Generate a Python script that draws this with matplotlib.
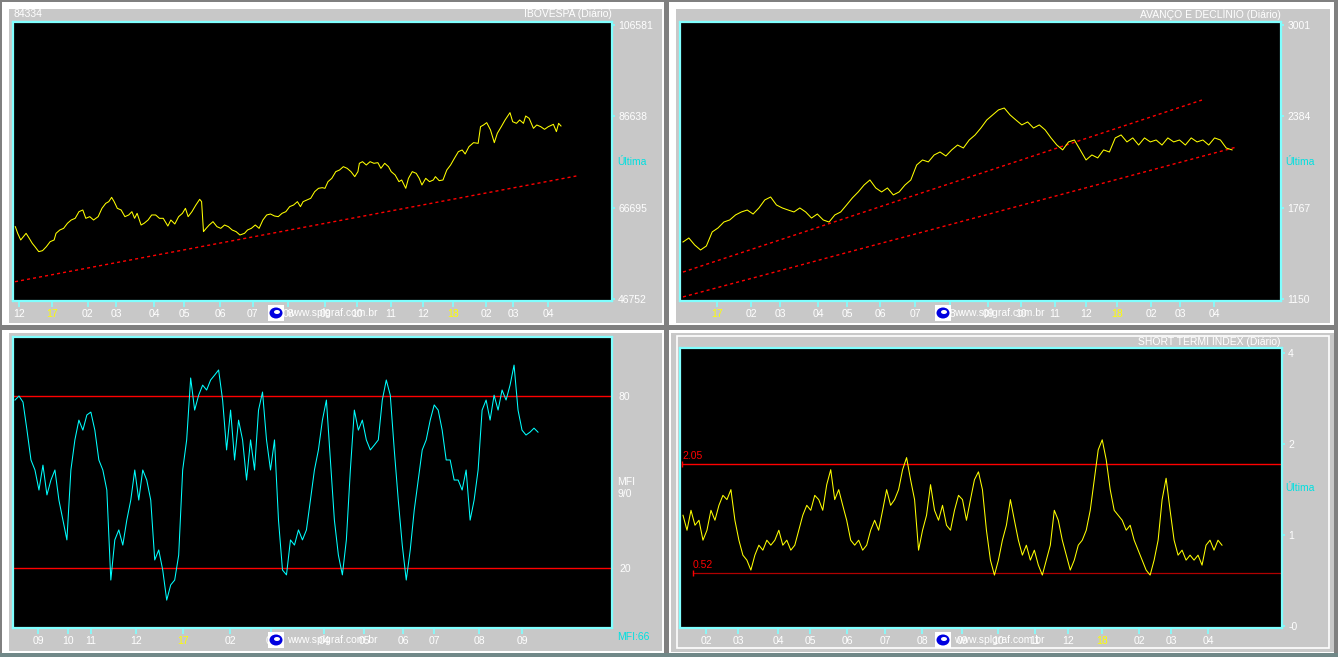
import numpy as np
import matplotlib
matplotlib.use('Agg')
import matplotlib.pyplot as plt
from matplotlib.patches import Rectangle, Ellipse

plt.rcParams['font.family'] = ['Liberation Sans', 'DejaVu Sans']

W, H = 1338, 657
CIANO = '#80ffff'
CIANO_TXT = '#00e0e0'
AMARELO = '#ffff00'
VERMELHO = '#ff0000'
CINZA = '#c8c8c8'

# ========== dados: IBOVESPA (pregões) ==========
ibov_dias = [0.2, 1.7, 3.6, 5.3, 7.0, 9.0, 10.9, 12.6, 15.0, 17.4, 19.8, 22.2, 24.7, 25.9, 28.3, 30.7,
             33.1, 35.5, 38.0, 40.4, 42.8, 44.7, 47.2, 49.6, 52.5, 54.9, 57.3, 59.2, 61.0, 62.6, 64.6,
             67.0, 69.4, 71.8, 73.8, 75.5, 77.1, 79.6, 81.5, 84.0, 86.3, 88.8, 91.2, 93.6, 96.5, 98.4,
             100.9, 103.3, 105.7, 107.6, 109.3, 111.7, 114.2, 116.6, 117.8, 119.0, 120.7, 122.6, 125.0,
             127.5, 129.9, 132.3, 134.7, 137.1, 139.6, 142.0, 144.9, 146.8, 149.2, 151.7, 154.1, 156.5,
             158.9, 161.3, 163.8, 166.2, 168.6, 171.0, 173.4, 175.9, 178.3, 180.2, 181.9, 184.3, 186.7,
             189.2, 191.6, 194.0, 195.7, 197.6, 200.0, 202.5, 204.9, 207.3, 209.7, 212.1, 214.5, 216.5,
             217.4, 219.4, 221.8, 224.2, 226.6, 229.1, 231.0, 233.4, 235.8, 237.5, 240.0, 242.4, 244.1,
             246.7, 248.4, 250.8, 253.3, 255.2, 256.9, 259.3, 261.7, 264.1, 265.4, 267.8, 270.2, 272.6,
             275.0, 277.4, 279.9, 282.3, 284.2, 286.6, 289.5, 292.4, 293.9, 295.8, 297.8, 300.2, 302.6,
             304.5, 307.0, 309.4, 312.5, 314.2, 316.6, 318.6, 321.0, 322.4, 324.6, 327.3, 329.4, 331.9,
             334.3, 336.7, 339.9, 341.8, 343.2, 344.7]
ibov = [62550, 61090, 59640, 60370, 61090, 60000, 58910, 58180, 57090, 57310,
        58180, 59270, 59640, 61090, 61820, 62180, 63280, 64000, 64370, 65820,
        66190, 64370, 64730, 64000, 64730, 66550, 67640, 68010, 68950, 68010,
        66550, 66190, 64730, 65100, 65820, 64370, 65460, 62910, 63280, 64000,
        65100, 65100, 64370, 64370, 62690, 64000, 63130, 64730, 65460, 66550,
        64730, 65820, 67280, 68520, 68010, 61460, 62180, 62910, 63640, 62550,
        62180, 62910, 62550, 61820, 61460, 60730, 61090, 61820, 62180, 62910,
        62180, 64000, 65100, 65310, 64880, 64730, 65460, 65820, 66920, 67280,
        68010, 66920, 68010, 68370, 68740, 70190, 70920, 71060, 70920, 72370,
        73100, 74560, 74920, 75650, 75280, 74560, 73470, 74560, 76380, 76740,
        76010, 76740, 76380, 76520, 75280, 76380, 75650, 74560, 73830, 72370,
        72740, 70920, 73100, 74560, 74190, 73100, 71650, 73100, 72370, 72740,
        73470, 72590, 72740, 74920, 76010, 77470, 78920, 79290, 78420, 80020,
        80890, 80740, 84380, 84750, 85260, 83660, 80890, 82930, 84380, 85840,
        87440, 85470, 85110, 85840, 85110, 86710, 86200, 84020, 84750, 84380,
        83800, 84380, 84890, 83290, 85110, 84530]
ibov_tend_dias = [0, 354.4]
ibov_tend = [50530, 73610]
ibov_ticks_x = [2.5, 23.3, 46, 64, 88, 107, 129.5, 150, 172.4, 196, 216, 237.5, 257.6, 276.6, 297.5, 314.5, 336.6]
ibov_meses = ['12', '17', '02', '03', '04', '05', '06', '07', '08', '09', '10', '11', '12', '18', '02', '03', '04']
ibov_ticks_y = [46752, 66695, 86638, 106581]

# ========== dados: AVANÇO E DECLÍNIO ==========
avd = [1535, 1562, 1515, 1481, 1508, 1603, 1630, 1670, 1684, 1718,
       1738, 1751, 1724, 1765, 1819, 1839, 1785, 1765, 1751, 1738,
       1765, 1738, 1697, 1724, 1684, 1670, 1718, 1738, 1785, 1833,
       1873, 1920, 1954, 1900, 1873, 1900, 1853, 1873, 1920, 1954,
       2055, 2089, 2076, 2123, 2143, 2116, 2157, 2190, 2170, 2224,
       2258, 2305, 2359, 2393, 2427, 2440, 2393, 2359, 2326, 2346,
       2305, 2326, 2292, 2238, 2190, 2157, 2211, 2224, 2157, 2089,
       2123, 2103, 2157, 2143, 2238, 2258, 2211, 2238, 2190, 2238,
       2211, 2224, 2190, 2238, 2211, 2224, 2190, 2238, 2211, 2224,
       2190, 2238, 2224, 2170, 2157]
avd_ultimo_dia = 348
avd_tend_sup_dias = [0, 328.9]
avd_tend_sup = [1332, 2494]
avd_tend_inf_dias = [0, 351]
avd_tend_inf = [1164, 2177]
avd_ticks_x = [21.5, 43.1, 61.5, 85.6, 103.9, 124.8, 147.0, 169.2, 193.3, 214.2, 235.7, 255.4, 275.0, 296.6, 315.0, 336.5]
avd_meses = ['17', '02', '03', '04', '05', '06', '07', '08', '09', '10', '11', '12', '18', '02', '03', '04']
avd_ticks_y = [1150, 1767, 2384, 3001]

# ========== dados: MFI ==========
mfi = [78.6, 80.0, 77.9, 68.1, 57.7, 54.2, 47.2, 55.9, 45.5, 50.7,
       54.2, 43.7, 36.7, 29.8, 54.2, 64.7, 71.6, 68.1, 73.4, 74.4,
       68.1, 57.7, 54.2, 47.2, 15.8, 29.8, 33.3, 28.0, 36.7, 43.7,
       54.2, 43.7, 54.2, 50.7, 43.7, 22.8, 26.3, 19.3, 8.8, 14.1,
       15.8, 24.5, 54.2, 64.7, 86.3, 75.1, 80.3, 83.8, 82.1, 85.6,
       87.3, 89.1, 78.6, 61.2, 75.1, 57.7, 71.6, 64.7, 50.7, 64.7,
       54.2, 75.1, 81.4, 64.7, 54.2, 64.7, 36.7, 19.3, 17.6, 29.8,
       28.0, 33.3, 29.8, 33.3, 43.7, 54.2, 61.2, 71.6, 78.6, 57.7,
       36.7, 24.5, 17.6, 29.8, 54.2, 75.1, 68.1, 71.6, 64.7, 61.2,
       62.9, 64.7, 78.6, 85.6, 80.3, 61.2, 43.7, 28.0, 15.8, 26.3,
       40.2, 50.7, 61.2, 64.7, 71.6, 76.9, 75.1, 68.1, 57.7, 57.7,
       50.7, 50.7, 47.2, 54.2, 36.7, 43.7, 54.2, 75.1, 78.6, 71.6,
       80.3, 75.1, 82.1, 78.6, 83.8, 90.8, 75.1, 68.1, 66.4, 67.4,
       68.8, 67.4]
mfi_ultimo = 130.75
mfi_niveis = [20, 80]
mfi_ticks_x = [5.75, 13.25, 19, 30.25, 42, 53.75, 64, 77.25, 87.25, 97, 104.75, 116, 126.75]
mfi_meses = ['09', '10', '11', '12', '17', '02', '03', '04', '05', '06', '07', '08', '09']

# ========== dados: SHORT TERM INDEX ==========
sti = [1.33, 1.12, 1.40, 1.19, 1.26, 0.98, 1.12, 1.40, 1.26, 1.47,
       1.61, 1.55, 1.69, 1.26, 0.98, 0.77, 0.70, 0.56, 0.77, 0.91,
       0.84, 0.98, 0.91, 0.98, 1.12, 0.91, 0.98, 0.84, 0.91, 1.12,
       1.33, 1.47, 1.40, 1.61, 1.55, 1.40, 1.76, 1.97, 1.55, 1.69,
       1.47, 1.26, 0.98, 0.91, 0.98, 0.84, 0.91, 1.12, 1.26, 1.12,
       1.40, 1.69, 1.47, 1.55, 1.69, 1.97, 2.14, 1.83, 1.55, 0.84,
       1.12, 1.33, 1.76, 1.40, 1.26, 1.47, 1.19, 1.12, 1.40, 1.61,
       1.55, 1.26, 1.55, 1.83, 1.94, 1.69, 1.12, 0.70, 0.49, 0.70,
       0.98, 1.19, 1.55, 1.26, 0.98, 0.77, 0.91, 0.70, 0.84, 0.63,
       0.49, 0.70, 0.91, 1.40, 1.26, 0.98, 0.77, 0.56, 0.70, 0.91,
       0.98, 1.12, 1.40, 1.83, 2.25, 2.39, 2.11, 1.69, 1.40, 1.33,
       1.26, 1.12, 1.19, 0.98, 0.84, 0.70, 0.56, 0.49, 0.70, 0.98,
       1.55, 1.85, 1.40, 0.98, 0.77, 0.84, 0.70, 0.77, 0.70, 0.77,
       0.63, 0.91, 0.98, 0.84, 0.98, 0.91]
sti_ultimo = 134.75
sti_sup, sti_inf = 2.05, 0.52
sti_ticks_x = [5.75, 13.75, 23.75, 31.75, 41, 50.5, 59.75, 69.75, 78.75, 88, 96.25, 104.75, 114, 122, 131.25]
sti_meses = ['02', '03', '04', '05', '06', '07', '08', '09', '10', '11', '12', '18', '02', '03', '04']
sti_ticks_y = [-0.224, 1.054, 2.33, 3.61]
sti_rotulos_y = ['-0', '1', '2', '4']


# ========== auxiliares ==========
def box(x0, y0, x1, y1):
    return [x0 / W, 1 - y1 / H, (x1 - x0) / W, (y1 - y0) / H]


def rect_px(fig, x0, y0, x1, y1, **kw):
    fig.add_artist(Rectangle((x0 / W, 1 - y1 / H), (x1 - x0) / W, (y1 - y0) / H,
                             transform=fig.transFigure, **kw))


def texto(fig, x, y, s, **kw):
    kw.setdefault('fontsize', 7.5)
    kw.setdefault('color', 'white')
    kw.setdefault('va', 'center')
    fig.text(x / W, 1 - y / H, s, **kw)


def prepara(ax, xlim, ylim, xt, xl, yt, yl, ytick_len=2.5):
    ax.set_facecolor('black')
    for s in ax.spines.values():
        s.set_color(CIANO)
        s.set_linewidth(1.6)
    ax.set_xlim(*xlim)
    ax.set_ylim(*ylim)
    ax.set_xticks(xt)
    ax.set_xticklabels(xl)
    ax.yaxis.tick_right()
    ax.set_yticks(yt)
    ax.set_yticklabels(yl)
    ax.tick_params(axis='x', length=4, width=1.2, color=CIANO, labelcolor='white',
                   labelsize=7.5, pad=2)
    ax.tick_params(axis='y', length=ytick_len, width=1.2, color=CIANO, labelcolor='white',
                   labelsize=7.5, pad=2)
    for t in ax.get_xticklabels():
        if t.get_text() in ('17', '18'):
            t.set_color(AMARELO)


def logo(fig, x, y):
    rect_px(fig, x, y, x + 16, y + 16, facecolor='white', edgecolor='none', zorder=5)
    fig.add_artist(Ellipse(((x + 8) / W, 1 - (y + 8) / H), 13 / W, 11 / H,
                           transform=fig.transFigure, facecolor='#0000e0', edgecolor='none', zorder=6))
    fig.add_artist(Ellipse(((x + 9) / W, 1 - (y + 7) / H), 6 / W, 4 / H,
                           transform=fig.transFigure, facecolor='white', edgecolor='none', zorder=7))
    texto(fig, x + 19, y + 8, 'www.splgraf.com.br', ha='left', zorder=8)


fig = plt.figure(figsize=(W / 100, H / 100), dpi=100)
fig.patch.set_facecolor('white')

# molduras cinza
rect_px(fig, 9, 9, 662, 323, facecolor=CINZA, edgecolor='none', zorder=0)
rect_px(fig, 676, 9, 1330, 323, facecolor=CINZA, edgecolor='none', zorder=0)
rect_px(fig, 9, 333, 662, 651, facecolor=CINZA, edgecolor='none', zorder=0)
rect_px(fig, 671, 333, 1334, 652, facecolor=CINZA, edgecolor='none', zorder=0)
rect_px(fig, 677, 336, 1329, 648, facecolor='none', edgecolor='white', linewidth=1.2, zorder=1)
# separadores
rect_px(fig, 664, 0, 669, H, facecolor='#808080', edgecolor='none', zorder=1)
rect_px(fig, 0, 325, W, 330, facecolor='#808080', edgecolor='none', zorder=1)
rect_px(fig, 0, 0, W, 2, facecolor='#808080', edgecolor='none', zorder=1)
rect_px(fig, 0, 0, 2, H, facecolor='#808080', edgecolor='none', zorder=1)
rect_px(fig, W - 4, 0, W, H, facecolor='#808080', edgecolor='none', zorder=1)
rect_px(fig, 0, H - 4, W, H, facecolor='#708888', edgecolor='none', zorder=1)

LW = 0.75

# ========== IBOVESPA ==========
ax1 = fig.add_axes(box(13, 22, 612, 301))
prepara(ax1, (-1.26, 376.9), (46315, 107236), ibov_ticks_x, ibov_meses,
        ibov_ticks_y, [str(v) for v in ibov_ticks_y])
ax1.plot(ibov_tend_dias, ibov_tend, color=VERMELHO, lw=1, ls=(0, (2.2, 2.2)))
ax1.plot(ibov_dias, ibov, color=AMARELO, lw=LW)
texto(fig, 14, 14, '84334', ha='left')
texto(fig, 612, 14, 'IBOVESPA (Diário)', ha='right')
texto(fig, 617, 162, 'Última', ha='left', color=CIANO_TXT)
logo(fig, 268, 305)

# ========== AVANÇO E DECLÍNIO ==========
ax2 = fig.add_axes(box(680, 22, 1281, 301))
prepara(ax2, (-1.9, 379.0), (1136.5, 3021), avd_ticks_x, avd_meses,
        avd_ticks_y, [str(v) for v in avd_ticks_y])
ax2.plot(avd_tend_sup_dias, avd_tend_sup, color=VERMELHO, lw=1, ls=(0, (2.2, 2.2)))
ax2.plot(avd_tend_inf_dias, avd_tend_inf, color=VERMELHO, lw=1, ls=(0, (2.2, 2.2)))
ax2.plot(np.linspace(0, avd_ultimo_dia, len(avd)), avd, color=AMARELO, lw=LW)
texto(fig, 1281, 14, 'AVANÇO E DECLÍNIO (Diário)', ha='right')
texto(fig, 1285, 162, 'Última', ha='left', color=CIANO_TXT)
logo(fig, 935, 305)

# ========== MFI ==========
ax3 = fig.add_axes(box(13, 337, 612, 628))
prepara(ax3, (-0.5, 149.25), (-0.93, 100.6), mfi_ticks_x, mfi_meses,
        mfi_niveis, [str(v) for v in mfi_niveis], ytick_len=0)
ax3.tick_params(axis='y', pad=5)
for nv in mfi_niveis:
    ax3.axhline(nv, color=VERMELHO, lw=1)
ax3.plot(np.linspace(0, mfi_ultimo, len(mfi)), mfi, color='#00ffff', lw=LW)
texto(fig, 617, 482, 'MFI', ha='left')
texto(fig, 617, 494, '9/0', ha='left')
texto(fig, 617, 637, 'MFI:66', ha='left', color=CIANO_TXT)
logo(fig, 268, 632)

# ========== SHORT TERM INDEX ==========
ax4 = fig.add_axes(box(680, 348, 1282, 628))
prepara(ax4, (-0.75, 149.75), (-0.253, 3.679), sti_ticks_x, sti_meses,
        sti_ticks_y, sti_rotulos_y)
ax4.plot([-0.25, 149.75], [sti_sup, sti_sup], color=VERMELHO, lw=1)
ax4.plot([2.5, 149.75], [sti_inf, sti_inf], color='#b00000', lw=0.9)
ax4.plot([-0.25], [sti_sup], marker='|', color=VERMELHO, ms=5, mew=1)
ax4.plot([2.5], [sti_inf], marker='|', color=VERMELHO, ms=5, mew=1)
ax4.annotate('2.05', (-0.25, sti_sup), xytext=(0, 6), textcoords='offset points',
             color=VERMELHO, fontsize=7.5, va='center', ha='left')
ax4.annotate('0.52', (2.5, sti_inf), xytext=(0, 6), textcoords='offset points',
             color=VERMELHO, fontsize=7.5, va='center', ha='left')
ax4.plot(np.linspace(0, sti_ultimo, len(sti)), sti, color=AMARELO, lw=LW)
texto(fig, 1281, 342, 'SHORT TERMI INDEX (Diário)', ha='right')
texto(fig, 1285, 488, 'Última', ha='left', color=CIANO_TXT)
logo(fig, 935, 632)

fig.savefig('out.png', dpi=100, facecolor=fig.get_facecolor())
